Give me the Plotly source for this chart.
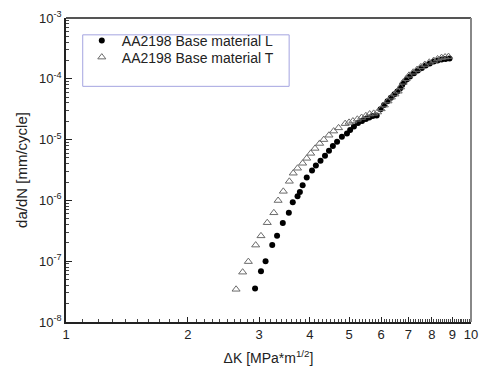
import plotly.graph_objects as go

# Fatigue crack growth data, AA2198 base material, L and T orientations
dk_L = [2.93, 3.03, 3.11, 3.23, 3.32, 3.43, 3.55, 3.63, 3.73, 3.78, 3.84, 3.93,
        4.05, 4.14, 4.25, 4.36, 4.46, 4.56, 4.67, 4.80, 4.94, 5.03, 5.14, 5.26,
        5.38, 5.50, 5.61, 5.72, 5.85, 5.98, 6.10, 6.22, 6.34, 6.47, 6.58, 6.69,
        6.76, 6.84, 6.95, 7.07, 7.23, 7.39, 7.56, 7.73, 7.91, 8.09, 8.27, 8.46,
        8.65, 8.85]
dadn_L = [3.54e-8, 6.85e-8, 9.96e-8, 1.84e-7, 2.61e-7, 4.25e-7, 6.25e-7, 9.35e-7,
          1.17e-6, 1.38e-6, 1.77e-6, 2.39e-6, 3.10e-6, 3.74e-6, 4.47e-6, 5.45e-6,
          6.57e-6, 7.84e-6, 9.20e-6, 1.11e-5, 1.26e-5, 1.44e-5, 1.65e-5, 1.88e-5,
          2.02e-5, 2.18e-5, 2.30e-5, 2.44e-5, 2.50e-5, 3.17e-5, 3.70e-5, 4.28e-5,
          4.90e-5, 5.57e-5, 6.20e-5, 6.98e-5, 7.90e-5, 8.74e-5, 9.80e-5, 1.09e-4,
          1.23e-4, 1.37e-4, 1.51e-4, 1.65e-4, 1.79e-4, 1.92e-4, 2.00e-4, 2.07e-4,
          2.12e-4, 2.15e-4]

dk_T = [2.63, 2.73, 2.82, 2.94, 3.03, 3.14, 3.26, 3.34, 3.44, 3.56, 3.64, 3.73,
        3.84, 3.93, 4.02, 4.12, 4.23, 4.33, 4.46, 4.58, 4.71, 4.89, 5.00, 5.11,
        5.24, 5.37, 5.50, 5.62, 5.75, 5.88, 6.00, 6.11, 6.24, 6.36, 6.49, 6.61,
        6.70, 6.80, 6.92, 7.03, 7.20, 7.36, 7.52, 7.69, 7.89, 8.09, 8.27, 8.46,
        8.63, 8.80]
dadn_T = [3.45e-8, 6.60e-8, 9.85e-8, 1.84e-7, 2.61e-7, 4.30e-7, 6.25e-7, 9.96e-7,
          1.41e-6, 2.06e-6, 2.80e-6, 3.38e-6, 4.08e-6, 4.92e-6, 5.94e-6, 7.16e-6,
          8.64e-6, 1.00e-5, 1.18e-5, 1.38e-5, 1.56e-5, 1.83e-5, 1.92e-5, 2.02e-5,
          2.16e-5, 2.31e-5, 2.47e-5, 2.63e-5, 2.70e-5, 2.84e-5, 3.20e-5, 3.69e-5,
          4.30e-5, 4.98e-5, 5.60e-5, 6.24e-5, 7.30e-5, 8.74e-5, 1.00e-4, 1.14e-4,
          1.28e-4, 1.42e-4, 1.57e-4, 1.72e-4, 1.87e-4, 2.00e-4, 2.12e-4, 2.23e-4,
          2.28e-4, 2.32e-4]

x_ticks = [1, 2, 3, 4, 5, 6, 7, 8, 9, 10]
x_minor = [round(i * 0.1, 1) for i in range(11, 100) if i % 10 != 0]
y_exp = [-8, -7, -6, -5, -4, -3]
y_ticks = [10.0 ** e for e in y_exp]
y_labels = [f"10<sup>{e}</sup>" for e in y_exp]
y_minor = [k * 10.0 ** e for e in y_exp[:-1] for k in range(2, 10)]

FONT = "Arial, Liberation Sans, sans-serif"

fig = go.Figure()
fig.add_trace(go.Scatter(
    x=dk_L, y=dadn_L, mode="markers", name="AA2198 Base material L",
    marker=dict(symbol="circle", size=6, color="black"),
    legend="legend",
))
fig.add_trace(go.Scatter(
    x=dk_T, y=dadn_T, mode="markers", name="AA2198 Base material T",
    marker=dict(symbol="triangle-up-open", size=7, color="#6a6a6a",
                line=dict(width=1)),
    legend="legend2",
))

leg_common = dict(xanchor="left", yanchor="middle", bgcolor="rgba(0,0,0,0)",
                  borderwidth=0, font=dict(size=14), tracegroupgap=0)

fig.update_layout(
    width=487, height=378,
    margin=dict(l=66, r=9, t=15, b=56),
    paper_bgcolor="white", plot_bgcolor="white",
    font=dict(family=FONT, size=13, color="#222"),
    showlegend=True,
    legend=dict(x=0.039, y=0.925, **leg_common),
    legend2=dict(x=0.039, y=0.870, **leg_common),
    xaxis=dict(
        type="log", range=[0, 1],
        tickmode="array", tickvals=x_ticks, ticktext=[str(v) for v in x_ticks],
        ticks="inside", ticklen=5, tickwidth=1, tickcolor="#222",
        showline=True, linecolor="#222", linewidth=1.5, mirror=False,
        showgrid=False, zeroline=False,
        minor=dict(tickmode="array", tickvals=x_minor, ticks="inside",
                   ticklen=3, tickcolor="#444", showgrid=False),
        title=dict(text="ΔK [MPa*m<sup>1/2</sup>]", font=dict(size=14), standoff=12),
        tickfont=dict(size=13),
    ),
    yaxis=dict(
        type="log", range=[-8, -3],
        tickmode="array", tickvals=y_ticks, ticktext=y_labels,
        ticks="inside", ticklen=6, tickwidth=1, tickcolor="#222",
        showline=True, linecolor="#222", linewidth=1.5, mirror=False,
        showgrid=False, zeroline=False,
        minor=dict(tickmode="array", tickvals=y_minor, ticks="inside",
                   ticklen=3, tickcolor="#444", showgrid=False),
        title=dict(text="da/dN [mm/cycle]", font=dict(size=15), standoff=8),
        tickfont=dict(size=13),
    ),
    shapes=[
        # top and right frame
        dict(type="line", xref="paper", yref="paper", x0=0, x1=1, y0=1, y1=1,
             line=dict(color="#555", width=2)),
        dict(type="line", xref="paper", yref="paper", x0=1, x1=1, y0=0, y1=1,
             line=dict(color="#888", width=2)),
        # legend frame
        dict(type="rect", xref="paper", yref="paper",
             x0=0.0413, x1=0.551, y0=0.7752, y1=0.9446,
             line=dict(color="#a4a4e0", width=1)),
    ],
)

fig.write_html("out.html")
